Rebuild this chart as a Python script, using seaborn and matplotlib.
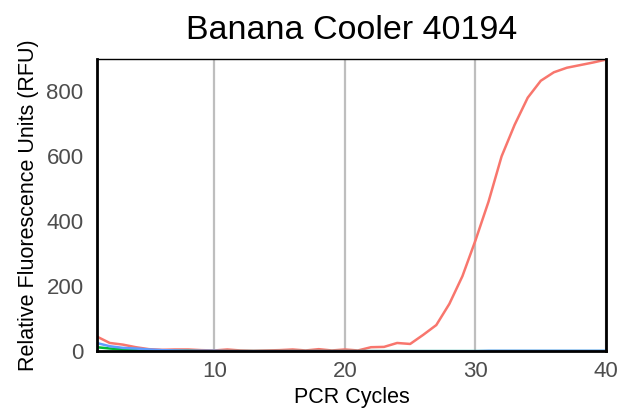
import numpy as np
import pandas as pd
import matplotlib
matplotlib.use("Agg")
import matplotlib.pyplot as plt
import seaborn as sns

# data
cycles = list(range(1, 41))
rfu_red = [45, 25, 20, 12, 6, 4, 5, 5, 3, 2,
           5, 2, 1, 2, 3, 5, 2, 6, 2, 5,
           2, 12, 13, 25, 22, 50, 80, 145, 230, 340,
           459, 598, 695, 778, 830, 856, 870, 878, 886, 895]
rfu_green = [12, 8, 5, 3, 2, 1, 1, 1, 0, 0,
             0, 0, 0, 0, 0, 0, 0, 0, 0, 0,
             0, 0, 0, 0, 0, 0, 0, 0, 0, 0,
             0, 0, 0, 0, 0, 0, 0, 0, 0, 0]
rfu_blue = [25, 15, 10, 8, 5, 3, 2, 1, 1, 1,
            0, 0, 0, 0, 0, 0, 0, 0, 0, 0,
            0, 0, 0, 0, 0, 0, 0, 0, 0, 0,
            1, 1, 1, 1, 1, 1, 1, 1, 1, 1]
wells = ["A", "B", "C"]
colors = ["#F8766D", "#00BA38", "#619CFF"]

df = pd.DataFrame({
    "cycle": cycles * 3,
    "rfu": rfu_red + rfu_green + rfu_blue,
    "well": [wells[0]] * 40 + [wells[1]] * 40 + [wells[2]] * 40,
})

sns.set_style("white")
plt.rcParams["font.family"] = ["Liberation Sans", "DejaVu Sans"]

fig = plt.figure(figsize=(6.32, 4.18), dpi=100)
ax = fig.add_axes([0.153, 0.16, 0.806, 0.699])

for x in [10, 20, 30, 40]:
    ax.axvline(x, color="#BEBEBE", lw=1.6, zorder=0)

sns.lineplot(data=df, x="cycle", y="rfu", hue="well", palette=colors,
             hue_order=wells, linewidth=1.8, legend=False, ax=ax)

ax.set_xlim(1, 40)
ax.set_ylim(0, 897)
ax.set_xticks([10, 20, 30, 40])
ax.set_yticks([0, 200, 400, 600, 800])
ax.tick_params(axis="both", direction="out", length=4, width=1.2,
               color="black", labelsize=16, labelcolor="#4D4D4D")
ax.tick_params(axis="x", pad=3)
ax.tick_params(axis="y", pad=5.5)
ax.set_xlabel("PCR Cycles", fontsize=15.5, color="black", labelpad=4)
ax.set_ylabel("Relative Fluorescence Units (RFU)", fontsize=15.5,
              color="black", labelpad=5)
ax.set_title("Banana Cooler 40194", fontsize=24.5, color="black", pad=14)

for side in ["left", "bottom", "right"]:
    ax.spines[side].set_color("black")
    ax.spines[side].set_linewidth(2)
ax.spines["top"].set_color("black")
ax.spines["top"].set_linewidth(1)

fig.savefig("out.png", dpi=100)
